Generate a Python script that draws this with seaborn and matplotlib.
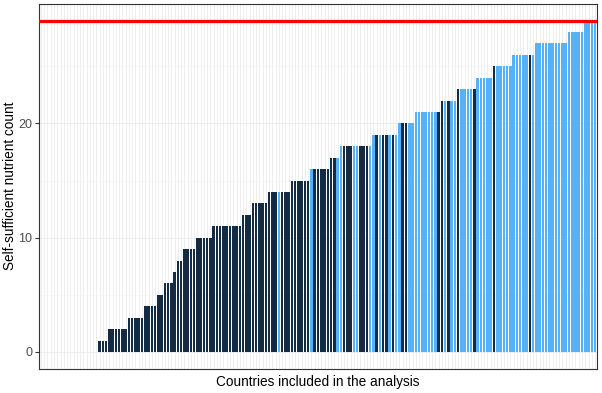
import pandas as pd
import matplotlib
matplotlib.use("Agg")
import matplotlib.pyplot as plt
import seaborn as sns

# --- data: nutrient count per country, sorted ascending ---
counts = [
    0, 0, 0, 0, 0, 0, 0, 0, 0, 0, 0, 0, 0, 0, 0, 0, 0, 0,
    1, 1, 1,
    2, 2, 2, 2, 2, 2,
    3, 3, 3, 3, 3,
    4, 4, 4, 4,
    5, 5,
    6, 6, 6,
    7,
    8, 8,
    9, 9, 9, 9,
    10, 10, 10, 10, 10,
    11, 11, 11, 11, 11, 11, 11, 11, 11,
    12, 12, 12,
    13, 13, 13, 13, 13,
    14, 14, 14, 14, 14, 14, 14,
    15, 15, 15, 15, 15, 15,
    16, 16, 16, 16, 16, 16,
    17, 17, 17,
    18, 18, 18, 18, 18, 18, 18, 18, 18, 18,
    19, 19, 19, 19, 19, 19, 19, 19,
    20, 20, 20, 20, 20,
    21, 21, 21, 21, 21, 21, 21, 21,
    22, 22, 22, 22, 22,
    23, 23, 23, 23, 23, 23,
    24, 24, 24, 24, 24,
    25, 25, 25, 25, 25, 25,
    26, 26, 26, 26, 26, 26, 26,
    27, 27, 27, 27, 27, 27, 27, 27, 27, 27,
    28, 28, 28, 28, 28,
    29, 29, 29, 29,
]

# fill group (0 = dark, 1 = light)
groups = [
    0, 0, 0, 0, 0, 0, 0, 0, 0, 0, 0, 0, 0, 0, 0, 0, 0, 0,
    0, 0, 0,
    0, 0, 0, 0, 0, 0,
    0, 0, 0, 0, 0,
    0, 0, 0, 0,
    0, 0,
    0, 0, 0,
    0,
    0, 0,
    0, 0, 0, 0,
    0, 0, 0, 0, 0,
    0, 0, 0, 0, 0, 0, 0, 0, 0,
    0, 0, 0,
    0, 0, 0, 0, 0,
    0, 0, 0, 1, 0, 0, 0,
    0, 0, 0, 0, 0, 0,
    1, 0, 0, 0, 0, 0,
    0, 0, 1,
    1, 0, 0, 0, 1, 1, 0, 0, 0, 1,
    1, 0, 1, 0, 0, 1, 0, 1,
    1, 0, 0, 1, 1,
    1, 1, 1, 1, 1, 1, 1, 0,
    0, 1, 0, 1, 1,
    0, 1, 1, 1, 1, 0,
    1, 1, 1, 1, 1,
    0, 1, 1, 1, 1, 1,
    1, 1, 1, 1, 1, 0, 1,
    1, 1, 1, 1, 1, 1, 1, 1, 1, 1,
    1, 1, 1, 1, 1,
    1, 1, 1, 1,
]

threshold = 29
palette = {0: "#132B43", 1: "#56B1F7"}

df = pd.DataFrame({"count": counts, "group": groups})
df["country"] = df.index.astype(str)
n = len(df)

plt.rcParams["font.family"] = ["Liberation Sans", "DejaVu Sans"]

fig, ax = plt.subplots(figsize=(6.02, 3.93), dpi=100)
fig.subplots_adjust(left=39 / 602, right=597 / 602, bottom=1 - 368.5 / 393, top=1 - 4 / 393)

sns.barplot(data=df, x="country", y="count", hue="group", palette=palette,
            dodge=False, width=0.78, legend=False, saturation=1,
            linewidth=0, order=list(df["country"]), ax=ax)

ax.axhline(threshold, color="red", lw=2.3, zorder=5)

# --- axes / grid (ggplot theme_bw look) ---
ax.set_xlim(-0.6, n - 1 + 0.6)
ax.set_ylim(-1.45, 30.45)
ax.set_facecolor("white")
ax.set_axisbelow(True)
ax.set_xticks(range(n))
ax.set_xticklabels([])
ax.set_yticks([0, 10, 20])
ax.set_yticks([5, 15, 25], minor=True)
ax.grid(True, which="major", axis="both", color="#EBEBEB", lw=0.6)
ax.grid(True, which="minor", axis="y", color="#F2F2F2", lw=0.4)
ax.tick_params(axis="x", length=0)
ax.tick_params(axis="y", which="major", length=3, color="#333333",
               labelsize=9, labelcolor="#4D4D4D", pad=2)
ax.tick_params(axis="y", which="minor", length=0)
for s in ax.spines.values():
    s.set_color("#333333")
    s.set_linewidth(0.8)

ax.set_xlabel("Countries included in the analysis", fontsize=9.8)
ax.set_ylabel("Self-sufficient nutrient count", fontsize=9.8)
ax.xaxis.set_label_coords(0.5, -6 / 364)
ax.yaxis.set_label_coords(-22 / 558, 0.5)

plt.savefig("out.png", dpi=100)
plt.close()
